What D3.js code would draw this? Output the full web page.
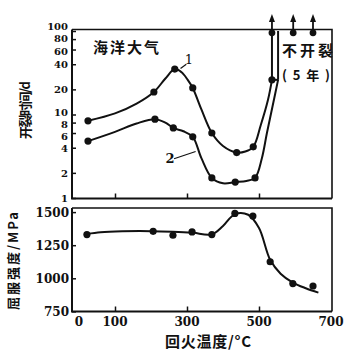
<!DOCTYPE html>
<html>
<head>
<meta charset="utf-8">
<script src="https://cdn.jsdelivr.net/npm/d3@7"></script>
<style>
  html, body { margin: 0; padding: 0; background: #fff; }
  svg { display: block; }
  .num { font-family: "DejaVu Serif", serif; font-weight: bold; font-size: 12px; fill: #111; }
  .num.small { font-size: 10px; }
  .cjk { font-family: "Noto Sans CJK SC", sans-serif; font-weight: bold; fill: #111; }
</style>
</head>
<body>
<script>
// Tempering temperature (°C) and measured values
const crackTemps1 = [25, 208, 266, 316, 369, 438, 484, 536];
const crackDays1  = [8.4, 18.6, 35, 20.8, 6.0, 3.5, 4.1, 26];
const crackTemps2 = [25, 211, 262, 316, 369, 434, 489];
const crackDays2  = [4.8, 8.8, 6.9, 5.4, 1.74, 1.55, 1.74];

// Smoothed trend lines through the measurements
const trend1 = [[25,8.4],[100,10.3],[160,13.5],[208,18.6],[240,27],[266,35],[285,32],[302,26],[316,20.8],[340,11.5],[369,6.0],[400,4.2],[438,3.5],[462,3.6],[484,4.1],[505,7.5],[525,15],[536,26]];
const trend2 = [[25,4.8],[100,6.2],[160,7.8],[211,8.8],[240,8.0],[262,6.9],[290,6.3],[316,5.4],[340,3.0],[369,1.74],[400,1.5],[434,1.55],[465,1.6],[489,1.74],[508,3],[522,6],[540,14],[553,26]];
const rise1 = [[536,26],[536,100]];
const rise2 = [[553,26],[553,100]];

// Specimens that did not crack within 5 years
const noCrackTemps = [536, 595, 650];
const noCrackDays = 95;

// Yield strength
const yieldTemps = [22, 206, 261, 314, 369, 433, 483, 531, 594, 650];
const yieldMPa   = [1330, 1355, 1325, 1350, 1330, 1490, 1470, 1125, 960, 942];
const yieldTrend = [[22,1335],[60,1348],[120,1355],[200,1356],[260,1352],[314,1345],[369,1332],[400,1395],[433,1485],[470,1480],[500,1380],[531,1140],[560,1035],[594,968],[630,925],[665,892]];

const xTickLabels = [0, 100, 300, 500, 700];
const xTickMarks = [100, 300, 500];
const yTopTicks = [1, 2, 4, 6, 8, 10, 20, 40, 60, 80, 100];
const yBotTicks = [750, 1000, 1250, 1500];

const W = 347, H = 351;
const svg = d3.select("body").append("svg").attr("width", W).attr("height", H);

const x = d3.scaleLinear().domain([0, 700]).range([79, 331]);
const yTop = d3.scaleLog().domain([1, 100]).range([198, 31]);
const yBot = d3.scaleLinear().domain([750, 1500]).range([311.4, 212.1]);

const left = 72, right = 332;
const topPanel = { top: 29.5, bottom: 198.5 };
const botPanel = { top: 208, bottom: 311.5 };

// Frames
function frame(p) {
  svg.append("path")
    .attr("d", `M${left},${p.top}H${right}V${p.bottom}`)
    .attr("fill", "none").attr("stroke", "#111").attr("stroke-width", 1.6);
  svg.append("path")
    .attr("d", `M${left},${p.top}V${p.bottom}H${right}`)
    .attr("fill", "none").attr("stroke", "#111").attr("stroke-width", 2);
}
frame(topPanel);
frame(botPanel);

// Left axes (inward ticks)
const axTop = svg.append("g").attr("transform", `translate(${left},0)`)
  .call(d3.axisRight(yTop).tickValues(yTopTicks).tickSize(4).tickFormat(""));
const axBot = svg.append("g").attr("transform", `translate(${left},0)`)
  .call(d3.axisRight(yBot).tickValues(yBotTicks).tickSize(4).tickFormat(""));
[axTop, axBot].forEach(g => {
  g.select(".domain").remove();
  g.selectAll("line").attr("stroke", "#111").attr("stroke-width", 1.5);
});

// Tightly packed log labels are nudged apart slightly
const labelNudge = { 100: -5, 80: -1, 60: 1, 10: -3, 8: 1, 6: 3 };
svg.append("g").selectAll("text").data(yTopTicks).join("text")
  .attr("class", "num small").attr("text-anchor", "end")
  .attr("x", 68).attr("y", d => yTop(d) + 4 + (labelNudge[d] || 0)).text(d => d);
svg.append("g").selectAll("text").data(yBotTicks).join("text")
  .attr("class", "num").attr("text-anchor", "end")
  .attr("x", 69).attr("y", d => yBot(d) + 4.5).text(d => d);

// Bottom axes (inward ticks)
[topPanel, botPanel].forEach(p => {
  const g = svg.append("g").attr("transform", `translate(0,${p.bottom})`)
    .call(d3.axisTop(x).tickValues(xTickMarks).tickSize(5).tickFormat(""));
  g.select(".domain").remove();
  g.selectAll("line").attr("stroke", "#111").attr("stroke-width", 1.5);
});
svg.append("g").selectAll("text").data(xTickLabels).join("text")
  .attr("class", "num").attr("text-anchor", "middle")
  .attr("x", d => x(d)).attr("y", 326).text(d => d);

// Axis titles
svg.append("text").attr("class", "cjk").attr("font-size", 13)
  .attr("transform", "translate(30,110) rotate(-90)")
  .attr("text-anchor", "middle").attr("textLength", 58).attr("lengthAdjust", "spacing")
  .text("开裂时间/d");
svg.append("text").attr("class", "cjk").attr("font-size", 13)
  .attr("transform", "translate(18,261) rotate(-90)")
  .attr("text-anchor", "middle").attr("textLength", 98).attr("lengthAdjust", "spacing")
  .text("屈服强度/MPa");
svg.append("text").attr("class", "cjk").attr("font-size", 15)
  .attr("x", 208).attr("y", 347).attr("text-anchor", "middle")
  .attr("textLength", 86).attr("lengthAdjust", "spacing")
  .text("回火温度/°C");

// Top panel: cracking time curves
const lineTop = d3.line().x(d => x(d[0])).y(d => yTop(d[1])).curve(d3.curveCatmullRom.alpha(0.5));
const straightTop = d3.line().x(d => x(d[0])).y(d => yTop(d[1]));
[trend1, trend2].forEach(t => svg.append("path").attr("d", lineTop(t))
  .attr("fill", "none").attr("stroke", "#111").attr("stroke-width", 2));
[rise1, rise2].forEach(t => svg.append("path").attr("d", straightTop(t))
  .attr("fill", "none").attr("stroke", "#111").attr("stroke-width", 2));
svg.append("path").attr("d", straightTop([[536, 26], [553, 26]]))
  .attr("stroke", "#111").attr("stroke-width", 2);

svg.append("g").selectAll("circle").data(crackTemps1).join("circle")
  .attr("cx", d => x(d)).attr("cy", (d, i) => yTop(crackDays1[i])).attr("r", 3.6).attr("fill", "#111");
svg.append("g").selectAll("circle").data(crackTemps2).join("circle")
  .attr("cx", d => x(d)).attr("cy", (d, i) => yTop(crackDays2[i])).attr("r", 3.6).attr("fill", "#111");

// Not-cracked markers with upward arrows
const arrows = svg.append("g");
noCrackTemps.forEach(t => {
  const cx = x(t), cy = yTop(noCrackDays);
  arrows.append("line").attr("x1", cx).attr("x2", cx).attr("y1", cy).attr("y2", 20)
    .attr("stroke", "#111").attr("stroke-width", 1.8);
  arrows.append("path").attr("d", `M${cx},14L${cx - 3},22L${cx + 3},22Z`).attr("fill", "#111");
  arrows.append("circle").attr("cx", cx).attr("cy", cy).attr("r", 3.4).attr("fill", "#111");
});

// Curve labels
svg.append("text").attr("x", x(305)).attr("y", yTop(40)).attr("font-family", "DejaVu Serif")
  .attr("font-size", 13).attr("fill", "#111").attr("text-anchor", "middle").text("1");
svg.append("path").attr("d", straightTop([[298, 40], [282, 35.5]]))
  .attr("stroke", "#111").attr("stroke-width", 1.2);
svg.append("text").attr("x", x(253)).attr("y", yTop(2.6)).attr("font-family", "DejaVu Serif")
  .attr("font-weight", "bold").attr("font-size", 13).attr("fill", "#111").attr("text-anchor", "middle").text("2");
svg.append("path").attr("d", straightTop([[264, 2.95], [324, 3.6]]))
  .attr("stroke", "#111").attr("stroke-width", 1.2);

// Annotations
svg.append("text").attr("class", "cjk").attr("font-size", 15)
  .attr("x", 93).attr("y", 53).attr("textLength", 66).attr("lengthAdjust", "spacing")
  .text("海洋大气");
svg.append("text").attr("class", "cjk").attr("font-size", 15)
  .attr("x", 282).attr("y", 56).attr("textLength", 51).attr("lengthAdjust", "spacing")
  .text("不开裂");
svg.append("text").attr("class", "cjk").attr("font-size", 13)
  .attr("x", 282).attr("y", 80).attr("textLength", 48).attr("lengthAdjust", "spacing")
  .text("(5年)");

// Bottom panel: yield strength
const lineBot = d3.line().x(d => x(d[0])).y(d => yBot(d[1])).curve(d3.curveCatmullRom.alpha(0.5));
svg.append("path").attr("d", lineBot(yieldTrend))
  .attr("fill", "none").attr("stroke", "#111").attr("stroke-width", 2);
svg.append("g").selectAll("circle").data(yieldTemps).join("circle")
  .attr("cx", d => x(d)).attr("cy", (d, i) => yBot(yieldMPa[i])).attr("r", 3.6).attr("fill", "#111");
</script>
</body>
</html>
